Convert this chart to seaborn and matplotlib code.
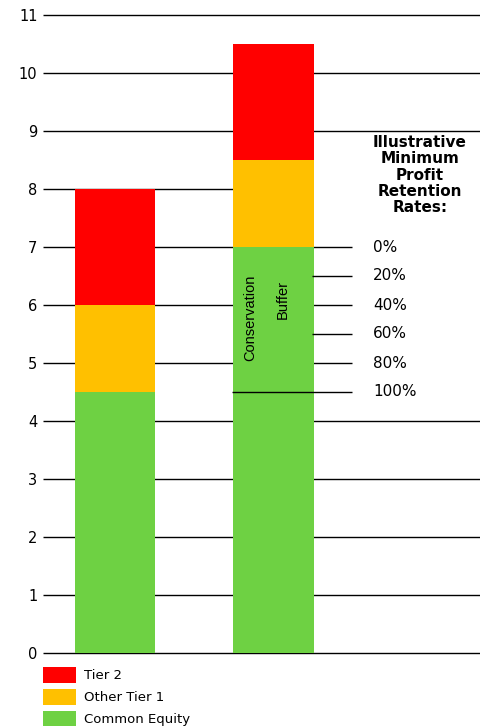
import pandas as pd
import matplotlib
matplotlib.use("Agg")
import matplotlib.pyplot as plt
import seaborn as sns
from matplotlib.patches import Patch

sns.set_theme(style="white")
plt.rcParams['font.family'] = ['DejaVu Sans']
plt.rcParams['text.color'] = 'black'

# capital components for the two bars
bars = ["Minimum", "With Buffer"]
common_equity = [4.5, 7.0]
other_tier1 = [1.5, 1.5]
tier2 = [2.0, 2.0]

# retention rate markers inside the conservation buffer
rate_labels = ["0%", "20%", "40%", "60%", "80%", "100%"]
rate_levels = [7.0, 6.5, 6.0, 5.5, 5.0, 4.5]

y_ticks = list(range(0, 12))

colors = {"Tier 2": "#FF0000", "Other Tier 1": "#FFC000", "Common Equity": "#6ED143"}

df = pd.DataFrame({"bar": bars, "ce": common_equity, "t1": other_tier1, "t2": tier2})
df["top_t1"] = df["ce"] + df["t1"]
df["top_t2"] = df["top_t1"] + df["t2"]

fig = plt.figure(figsize=(4.81, 7.26), dpi=100)
ax = fig.add_axes([43 / 481, 73 / 726, 438 / 481, 638 / 726])

xl, xr = -0.454, 2.309
w = 0.505
lw = 1.0

# gridlines (behind bars)
full = [0, 1, 2, 3, 4, 9, 10, 11]
ax.hlines(full, xl, xr, color="black", lw=lw, zorder=0, clip_on=False)
ax.hlines([5, 6, 7], xl, 1.495, color="black", lw=lw, zorder=0)
ax.hlines([8], xl, 1.25, color="black", lw=lw, zorder=0)

# stacked bars, drawn as cumulative heights
for col, key in [("top_t2", "Tier 2"), ("top_t1", "Other Tier 1"), ("ce", "Common Equity")]:
    sns.barplot(data=df, x="bar", y=col, color=colors[key], width=w,
                saturation=1, linewidth=0, edgecolor="none", ax=ax, zorder=2)

# rate markers
ax.hlines([6.5, 5.5], 1.24, 1.495, color="black", lw=lw, zorder=3)
ax.hlines([4.5], 0.74, 1.495, color="black", lw=lw, zorder=3)
for lab, lv in zip(rate_labels, rate_levels):
    ax.text(1.628, lv, lab, fontsize=11, va="center", ha="left")

ax.text(1.924, 8.24, "Illustrative\nMinimum\nProfit\nRetention\nRates:",
        fontsize=11, fontweight="bold", ha="center", va="center", linespacing=1.1,
        zorder=4)

ax.text(0.852, 5.78, "Conservation", rotation=90, fontsize=10.5, ha="center", va="center",
        fontfamily="Liberation Sans", zorder=4)
ax.text(1.06, 6.1, "Buffer", rotation=90, fontsize=10.5, ha="center", va="center",
        fontfamily="Liberation Sans", zorder=4)

ax.set_xlim(xl, xr)
ax.set_ylim(0, 11)
ax.set_yticks(y_ticks)
ax.set_xticks([])
ax.set_xlabel("")
ax.set_ylabel("")
ax.tick_params(axis="y", length=0, pad=4, labelsize=10.5, colors="black")
for s in ax.spines.values():
    s.set_visible(False)
ax.set_facecolor("white")

handles = [Patch(facecolor=c, edgecolor="none", label=k) for k, c in colors.items()]
fig.legend(handles=handles, loc="upper left", bbox_to_anchor=(43 / 481, 1 - 667 / 726),
           frameon=False, fontsize=9.5, handlelength=2.5, handleheight=1.49,
           labelspacing=0.45, handletextpad=0.6, borderpad=0, borderaxespad=0)

fig.savefig("out.png", dpi=100, facecolor="white")
